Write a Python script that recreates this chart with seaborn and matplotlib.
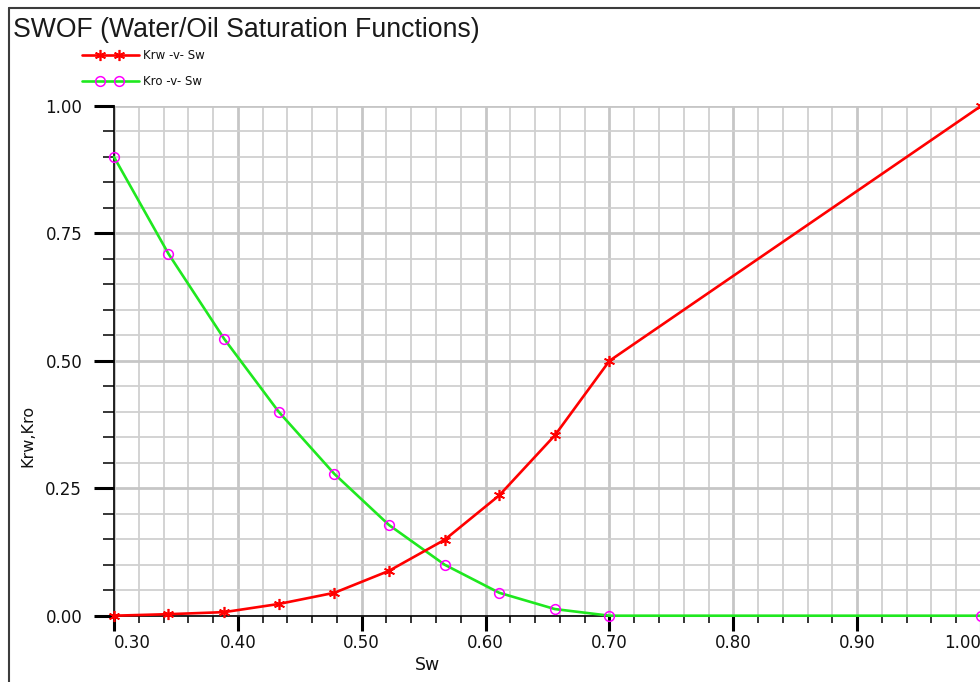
import numpy as np
import pandas as pd
import matplotlib
matplotlib.use("Agg")
import matplotlib.pyplot as plt
import seaborn as sns
from matplotlib.ticker import MultipleLocator
from matplotlib.legend_handler import HandlerLine2DCompound
from matplotlib.lines import Line2D

# ---- data ----
sw = [0.30, 0.344, 0.389, 0.433, 0.478, 0.522, 0.567, 0.611, 0.656, 0.70, 1.00]
krw = [0.000, 0.003, 0.007, 0.023, 0.045, 0.088, 0.149, 0.236, 0.354, 0.500, 1.000]
kro = [0.900, 0.710, 0.543, 0.400, 0.278, 0.178, 0.100, 0.045, 0.013, 0.000, 0.000]

x_ticks = [0.30, 0.40, 0.50, 0.60, 0.70, 0.80, 0.90, 1.00]
x_tick_labels = ["0.30", "0.40", "0.50", "0.60", "0.70", "0.80", "0.90", "1.00"]
y_ticks = [0.00, 0.25, 0.50, 0.75, 1.00]
y_tick_labels = ["0.00", "0.25", "0.50", "0.75", "1.00"]

title = "SWOF (Water/Oil Saturation Functions)"
series_labels = ["Krw -v- Sw", "Kro -v- Sw"]

df = pd.DataFrame({"Sw": sw, "Krw": krw, "Kro": kro})

sns.set_theme(style="white")
plt.rcParams["font.family"] = ["DejaVu Sans"]

W, H = 980, 682
fig = plt.figure(figsize=(W / 100, H / 100), dpi=100)
fig.patch.set_facecolor("white")

ax_left, ax_right = 114, 981
ax_top, ax_bot = 106, 615.7
ax = fig.add_axes([ax_left / W, (H - ax_bot) / H,
                   (ax_right - ax_left) / W, (ax_bot - ax_top) / H])
ax.set_facecolor("white")

sns.lineplot(data=df, x="Sw", y="Krw", ax=ax, color="#ff0000", lw=1.9,
             marker=(6, 2, 0), markersize=8, markeredgewidth=1.2,
             markeredgecolor="#ff0000", label=series_labels[0],
             clip_on=False, zorder=4)
sns.lineplot(data=df, x="Sw", y="Kro", ax=ax, color="#1fe81f", lw=1.9,
             marker="o", markersize=7, markerfacecolor="none",
             markeredgecolor="#ff00ff", markeredgewidth=1.1,
             label=series_labels[1], clip_on=False, zorder=3)

ax.set_xlim(0.30, 1.00)
ax.set_ylim(0.0, 1.0)

ax.set_xticks(x_ticks, x_tick_labels)
ax.set_yticks(y_ticks, y_tick_labels)
ax.xaxis.set_minor_locator(MultipleLocator(0.02))
ax.yaxis.set_minor_locator(MultipleLocator(0.05))

ax.set_axisbelow(True)
ax.grid(which="major", color="#c6c6c6", lw=2.0)
ax.grid(which="minor", color="#d0d0d0", lw=1.3)

for s in ["top", "right"]:
    ax.spines[s].set_visible(False)
for s in ["left", "bottom"]:
    ax.spines[s].set_color("black")
    ax.spines[s].set_linewidth(1.2)

ax.tick_params(which="both", left=True, bottom=True, top=False, right=False)
ax.tick_params(axis="y", which="major", direction="out", length=14.4, width=2.2,
               color="black", pad=8.5, labelsize=12, labelcolor="#111111")
ax.tick_params(axis="y", which="minor", direction="out", length=7.9, width=1.1,
               color="black")
ax.tick_params(axis="x", which="major", direction="out", length=10.8, width=2.2,
               color="black", pad=2.5, labelsize=12, labelcolor="#111111")
ax.tick_params(axis="x", which="minor", direction="out", length=5.0, width=1.1,
               color="black")
xl = ax.get_xticklabels()
xl[0].set_ha("left")
xl[-1].set_ha("right")

ax.set_xlabel("Sw", fontsize=12.5, color="#111111")
ax.xaxis.label.set_va("center")
ax.xaxis.set_label_coords((428 - ax_left) / (ax_right - ax_left),
                          (ax_bot - 665) / (ax_bot - ax_top))
ax.set_ylabel("Krw,Kro", fontsize=11.5, color="#111111")
ax.yaxis.label.set_va("center")
ax.yaxis.set_label_coords((28 - ax_left) / (ax_right - ax_left),
                          (ax_bot - 436) / (ax_bot - ax_top))


class TwoMarkerHandler(HandlerLine2DCompound):
    def get_xdata(self, legend, xdescent, ydescent, width, height, fontsize):
        xdata = np.array([-xdescent, -xdescent + width])
        xm = np.array([-xdescent + 0.31 * width, -xdescent + 0.65 * width])
        return xdata, xm


handles, labels = ax.get_legend_handles_labels()
leg = ax.legend(handles, labels, handler_map={Line2D: TwoMarkerHandler()},
                loc="upper left", bbox_to_anchor=(82 / W, 1 - 49 / H),
                bbox_transform=fig.transFigure, frameon=False, fontsize=8.5,
                handlelength=4.8, handletextpad=0.35, labelspacing=1.1,
                borderpad=0, borderaxespad=0, markerscale=1.0)
for t in leg.get_texts():
    t.set_color("#111111")

fig.text(13 / W, 1 - 30 / H, title, fontsize=19.2, family=["Liberation Sans"],
         va="center", ha="left", color="#1a1a1a")

# window frame
fig.add_artist(Line2D([9 / W, 9 / W], [0, 1 - 8 / H], transform=fig.transFigure,
                      color="#3c3c3c", lw=1.5))
fig.add_artist(Line2D([9 / W, 1], [1 - 8 / H, 1 - 8 / H], transform=fig.transFigure,
                      color="#3c3c3c", lw=1.5))

fig.savefig("out.png", dpi=100)
